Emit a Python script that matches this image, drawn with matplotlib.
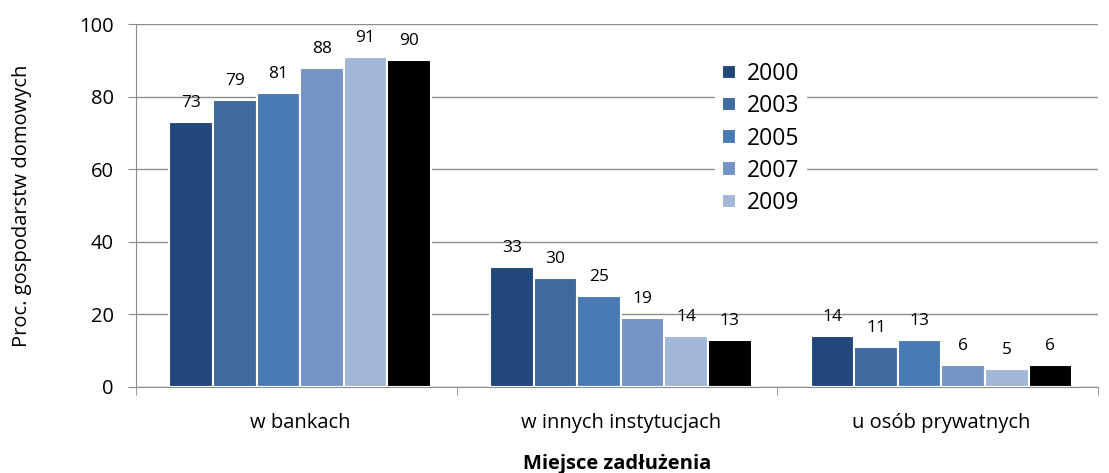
import matplotlib.pyplot as plt
import numpy as np

plt.rcParams['font.family'] = ['Open Sans', 'DejaVu Sans']

# Dane
categories = ["w bankach", "w innych instytucjach", "u osób prywatnych"]
years = ["2000", "2003", "2005", "2007", "2009", "2011"]
values = [
    [73, 33, 14],
    [79, 30, 11],
    [81, 25, 13],
    [88, 19, 6],
    [91, 14, 5],
    [90, 13, 6],
]
colors = ["#22477a", "#3f6a9e", "#4a7ab4", "#7394c5", "#a2b6d7", "#000000"]
in_legend = [True, True, True, True, True, False]

fig = plt.figure(figsize=(11.09, 4.73), dpi=100)
ax = fig.add_axes([0.1226, 0.182, 0.8674, 0.767])

x = np.arange(len(categories))
w = 0.136
for i, (yr, vals) in enumerate(zip(years, values)):
    pos = x + 0.012 + (i - 2.5) * w
    bars = ax.bar(pos, vals, w, color=colors[i], edgecolor="white", linewidth=1.5,
                  label=yr if in_legend[i] else "_nolegend_", zorder=3)
    for b, v in zip(bars, vals):
        ax.annotate(str(v), (b.get_x() + b.get_width() / 2, v), xytext=(0, 8),
                    textcoords="offset points", ha="center", va="bottom", fontsize=12.5)

ax.set_xlim(-0.5, 2.5)
ax.set_ylim(0, 100)
ax.set_yticks(range(0, 101, 20))
ax.yaxis.grid(True, color="#8c8c8c", linewidth=1, zorder=0)
ax.set_axisbelow(True)
ax.set_xticks(x + 0.012)
ax.set_xticklabels(categories, fontsize=14.5)
ax.tick_params(axis="x", length=0, pad=19)
ax.tick_params(axis="y", labelsize=14.5, length=6, color="#8c8c8c", pad=10)
ax.set_xticks([-0.5, 0.5, 1.5, 2.5], minor=True)
ax.tick_params(axis="x", which="minor", length=6, color="#8c8c8c")

for s in ["top", "right"]:
    ax.spines[s].set_visible(False)
for s in ["left", "bottom"]:
    ax.spines[s].set_color("#8c8c8c")

ax.set_ylabel("Proc. gospodarstw domowych", fontsize=14.5, labelpad=34)
ax.set_xlabel("Miejsce zadłużenia", fontsize=14.5, fontweight="bold", labelpad=15)

leg = ax.legend(loc="upper left", bbox_to_anchor=(0.59, 0.946), frameon=True, fontsize=16.5,
                handlelength=0.6, handleheight=0.6, handletextpad=0.5, labelspacing=0.36,
                borderpad=0.3, edgecolor="white", framealpha=1, fancybox=False)

fig.savefig("out.png", dpi=100)
